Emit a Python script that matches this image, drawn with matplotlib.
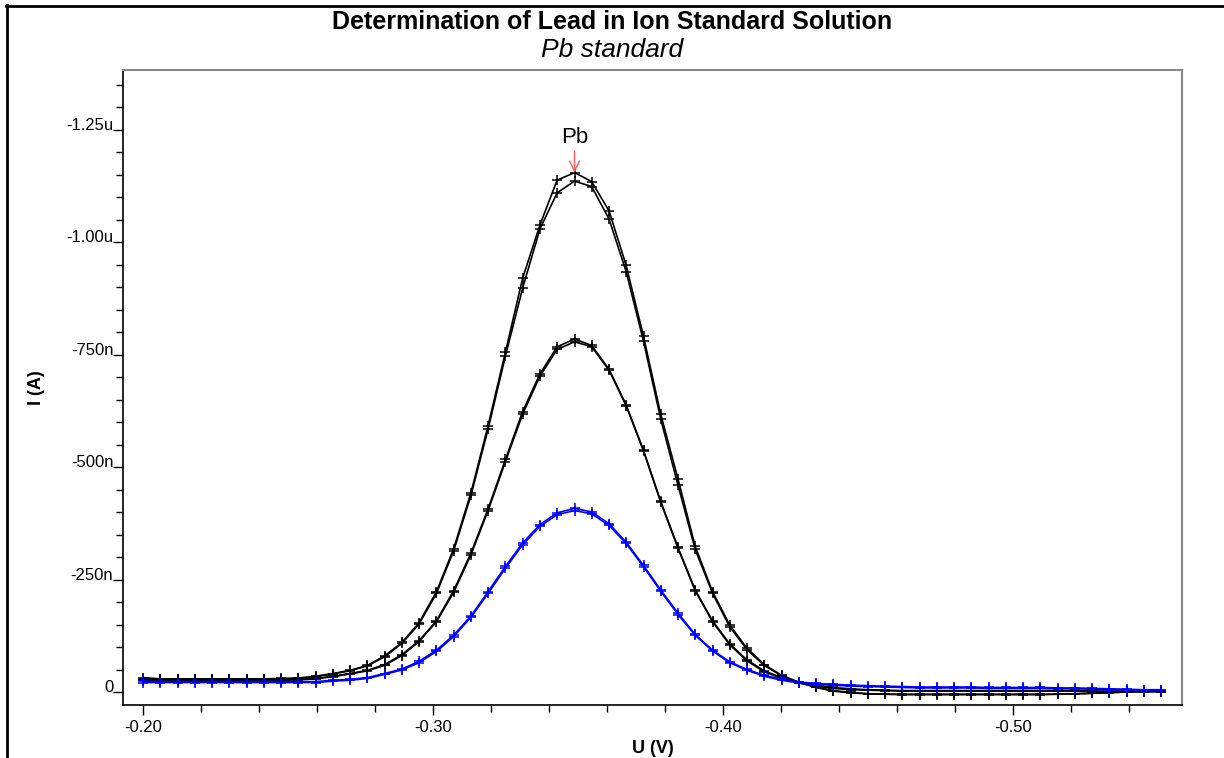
import numpy as np
import matplotlib
matplotlib.use("Agg")
from matplotlib import pyplot as plt
from matplotlib.ticker import MultipleLocator, FixedLocator, FuncFormatter
from matplotlib.lines import Line2D

plt.rcParams['font.family'] = ['Liberation Sans', 'DejaVu Sans']

# potential steps (V)
U = [-0.2000, -0.2060, -0.2119, -0.2179, -0.2238, -0.2298, -0.2357, -0.2417, -0.2476, -0.2536,
     -0.2595, -0.2655, -0.2714, -0.2774, -0.2833, -0.2893, -0.2952, -0.3012, -0.3071, -0.3131,
     -0.3190, -0.3250, -0.3309, -0.3369, -0.3428, -0.3488, -0.3547, -0.3607, -0.3666, -0.3726,
     -0.3785, -0.3845, -0.3904, -0.3964, -0.4023, -0.4083, -0.4142, -0.4202, -0.4261, -0.4321,
     -0.4380, -0.4440, -0.4499, -0.4559, -0.4618, -0.4678, -0.4737, -0.4797, -0.4856, -0.4916,
     -0.4975, -0.5035, -0.5094, -0.5154, -0.5213, -0.5273, -0.5332, -0.5392, -0.5451, -0.5511]

# current magnitudes in nA (plotted as negative current)
std2_a = [33, 30, 30, 30, 30, 30, 30, 30, 31, 32,
          36, 42, 49, 60, 81, 111, 155, 224, 319, 444,
          593, 757, 920, 1039, 1138, 1155, 1135, 1070, 949, 791,
          619, 474, 325, 224, 150, 98, 62, 38, 23, 12,
          4, 0, -3, -4, -4, -4, -4, -4, -4, -4,
          -4, -4, -4, -4, -3, -2, -1, 1, 2, 2]
std2_b = [30, 29, 29, 29, 29, 29, 29, 29, 30, 31,
          35, 41, 48, 59, 79, 109, 152, 220, 314, 438,
          585, 748, 898, 1030, 1110, 1136, 1124, 1052, 935, 780,
          608, 460, 318, 220, 146, 95, 60, 37, 22, 11,
          3, -1, -3, -4, -5, -5, -5, -5, -5, -5,
          -5, -5, -5, -4, -3, -2, 0, 1, 2, 2]
std1_a = [28, 28, 28, 28, 28, 28, 28, 28, 28, 29,
          31, 36, 42, 49, 62, 84, 115, 159, 226, 310,
          408, 518, 624, 708, 768, 785, 771, 718, 639, 538,
          425, 322, 228, 159, 108, 72, 48, 33, 23, 16,
          11, 8, 6, 5, 4, 4, 4, 4, 4, 4,
          4, 4, 4, 4, 4, 3, 3, 3, 3, 3]
std1_b = [27, 27, 27, 27, 27, 27, 27, 27, 27, 28,
          30, 35, 41, 48, 60, 82, 113, 157, 222, 306,
          404, 513, 618, 703, 762, 779, 768, 716, 637, 536,
          423, 320, 226, 157, 106, 70, 46, 31, 21, 14,
          9, 6, 5, 4, 3, 3, 3, 3, 3, 3,
          3, 3, 3, 3, 3, 2, 2, 2, 2, 2]
sample_a = [25, 24, 24, 24, 24, 24, 24, 24, 24, 24,
            24, 27, 29, 33, 42, 52, 69, 94, 127, 170,
            224, 280, 332, 373, 399, 409, 401, 375, 334, 282,
            228, 176, 129, 94, 68, 51, 38, 29, 23, 20,
            18, 16, 15, 14, 13, 12, 12, 12, 12, 11,
            11, 11, 11, 10, 10, 9, 8, 7, 6, 6]
sample_b = [22, 22, 22, 22, 22, 22, 22, 22, 22, 22,
            22, 25, 27, 31, 40, 50, 66, 91, 124, 167,
            220, 276, 328, 369, 395, 404, 397, 371, 331, 279,
            225, 173, 127, 92, 66, 49, 36, 27, 21, 18,
            16, 14, 13, 12, 11, 10, 10, 10, 10, 9,
            9, 9, 9, 8, 8, 7, 6, 6, 5, 5]

peak_u = -0.3488
peak_i = 1155

fig = plt.figure(figsize=(12.24, 7.58), dpi=100)
ax = fig.add_axes([0.1005, 0.0699, 0.8652, 0.8378])

for y in [std2_a, std2_b, std1_a, std1_b]:
    ax.plot(U, -np.array(y), color='black', lw=1.2, marker='+', ms=7, mew=1.1)
for y in [sample_a, sample_b]:
    ax.plot(U, -np.array(y), color='#0000ff', lw=1.2, marker='+', ms=7, mew=1.1)

ax.set_xlim(-0.1931, -0.5583)
ax.set_ylim(28, -1383)

ax.xaxis.set_major_locator(FixedLocator([-0.20, -0.30, -0.40, -0.50]))
ax.xaxis.set_minor_locator(MultipleLocator(0.02))
ax.xaxis.set_major_formatter(FuncFormatter(lambda v, p: "%.2f" % v))

def ifmt(v, p):
    if abs(v) < 1e-9:
        return "0"
    if abs(v) >= 1000:
        return "%.2fu" % (v / 1000.0)
    return "%dn" % round(v)

ax.yaxis.set_major_locator(FixedLocator([0, -250, -500, -750, -1000, -1250]))
ax.yaxis.set_minor_locator(MultipleLocator(50))
ax.yaxis.set_major_formatter(FuncFormatter(ifmt))

ax.tick_params(axis='both', which='major', direction='out', length=7, width=1, labelsize=12)
ax.tick_params(axis='both', which='minor', direction='out', length=5, width=1)
ax.tick_params(axis='y', which='major', pad=0)
for lbl in ax.get_yticklabels():
    lbl.set_va('baseline')

for s in ['left', 'bottom']:
    ax.spines[s].set_color('black')
    ax.spines[s].set_linewidth(1.2)
for s in ['top', 'right']:
    ax.spines[s].set_color('#8a8a8a')
    ax.spines[s].set_linewidth(1.5)

ax.set_xlabel("U (V)", fontsize=13, fontweight='bold', labelpad=4)
ax.set_ylabel("I (A)", fontsize=13, fontweight='bold', labelpad=15)

# peak marker
ax.annotate('', xy=(peak_u, -peak_i), xytext=(peak_u, -1203),
            arrowprops=dict(arrowstyle='->', color='#ff5a5a', lw=1.0,
                            mutation_scale=18, shrinkA=0, shrinkB=0))
ax.text(peak_u, -1233, "Pb", ha='center', va='center', fontsize=16)

fig.text(0.5, 1 - 22 / 758, "Determination of Lead in Ion Standard Solution",
         ha='center', va='center', fontsize=18, fontweight='bold')
fig.text(0.5, 1 - 50 / 758, "Pb standard", ha='center', va='center',
         fontsize=19, style='italic')

# outer border (top and left)
fig.add_artist(Line2D([6 / 1224, 1223 / 1224], [1 - 5.5 / 758, 1 - 5.5 / 758],
                      color='black', lw=2, transform=fig.transFigure))
fig.add_artist(Line2D([7 / 1224, 7 / 1224], [1 - 5 / 758, 0],
                      color='black', lw=2, transform=fig.transFigure))

fig.savefig("out.png", dpi=100)
